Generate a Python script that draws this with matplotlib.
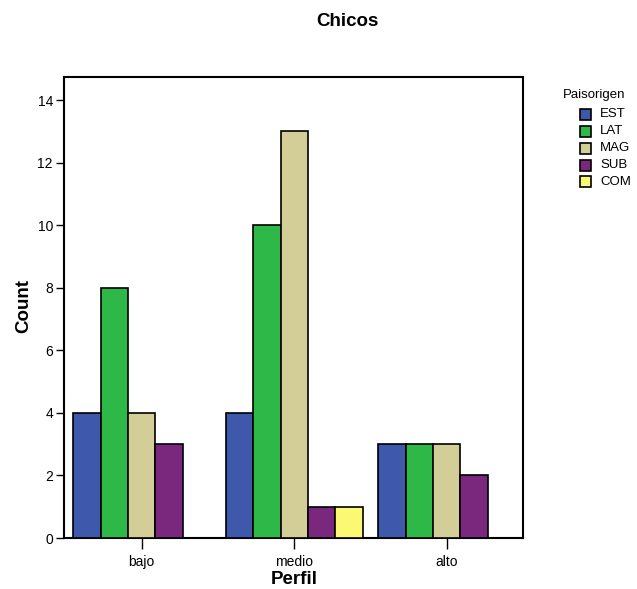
import matplotlib
matplotlib.use("Agg")
import matplotlib.pyplot as plt
from matplotlib.patches import Rectangle
import numpy as np

plt.rcParams['font.family'] = ['Liberation Sans', 'DejaVu Sans']

categories = ["bajo", "medio", "alto"]
series = ["EST", "LAT", "MAG", "SUB", "COM"]
values = {
    "EST": [4, 4, 3],
    "LAT": [8, 10, 3],
    "MAG": [4, 13, 3],
    "SUB": [3, 1, 2],
    "COM": [0, 1, 0],
}
colors = {
    "EST": "#3e58ac",
    "LAT": "#2eb848",
    "MAG": "#d3ce97",
    "SUB": "#79287e",
    "COM": "#fbf873",
}

W, H = 637, 589
fig = plt.figure(figsize=(W/100, H/100), dpi=100)
ax = fig.add_axes([64/W, 51/H, (523-64)/W, (538-76.7)/H])

w = 0.18
x = np.arange(len(categories))
for i, s in enumerate(series):
    vals = np.array(values[s], dtype=float)
    offs = (i - 2) * w
    mask = vals > 0
    ax.bar(x[mask] + offs, vals[mask], width=w, color=colors[s],
           edgecolor="black", linewidth=1.2, zorder=3)

ax.set_xlim(-0.51, 2.5)
ax.set_ylim(0, 14.75)
ax.set_yticks([0, 2, 4, 6, 8, 10, 12, 14])
ax.set_xticks(x)
ax.set_xticklabels(categories)
for sp in ax.spines.values():
    sp.set_linewidth(1.5)
ax.tick_params(axis='y', direction='out', length=6, width=1, labelsize=10, pad=2)
ax.tick_params(axis='x', direction='out', length=8, width=1, labelsize=10, pad=4)

fig.text(24/W, 1 - 306/H, "Count", ha='center', va='center', rotation=90,
         fontsize=13.5, fontweight='bold')
fig.text(294/W, 1 - 580/H, "Perfil", ha='center', va='center',
         fontsize=13.5, fontweight='bold')
fig.text(347/W, 1 - 22/H, "Chicos", ha='center', va='center',
         fontsize=13.5, fontweight='bold')

# legend
fig.text(563/W, 1 - 95/H, "Paisorigen", ha='left', va='center', fontsize=9.5)
row_y = [114.3, 131.5, 148.3, 165.2, 182]
for s, yy in zip(series, row_y):
    fig.patches.append(Rectangle((580/W, 1 - (yy + 5.5)/H), 11/W, 11/H,
                                 transform=fig.transFigure, facecolor=colors[s],
                                 edgecolor='black', linewidth=1.2))
    fig.text(600/W, 1 - yy/H, s, ha='left', va='center', fontsize=9.5)

fig.savefig("out.png", dpi=100, facecolor='white')
